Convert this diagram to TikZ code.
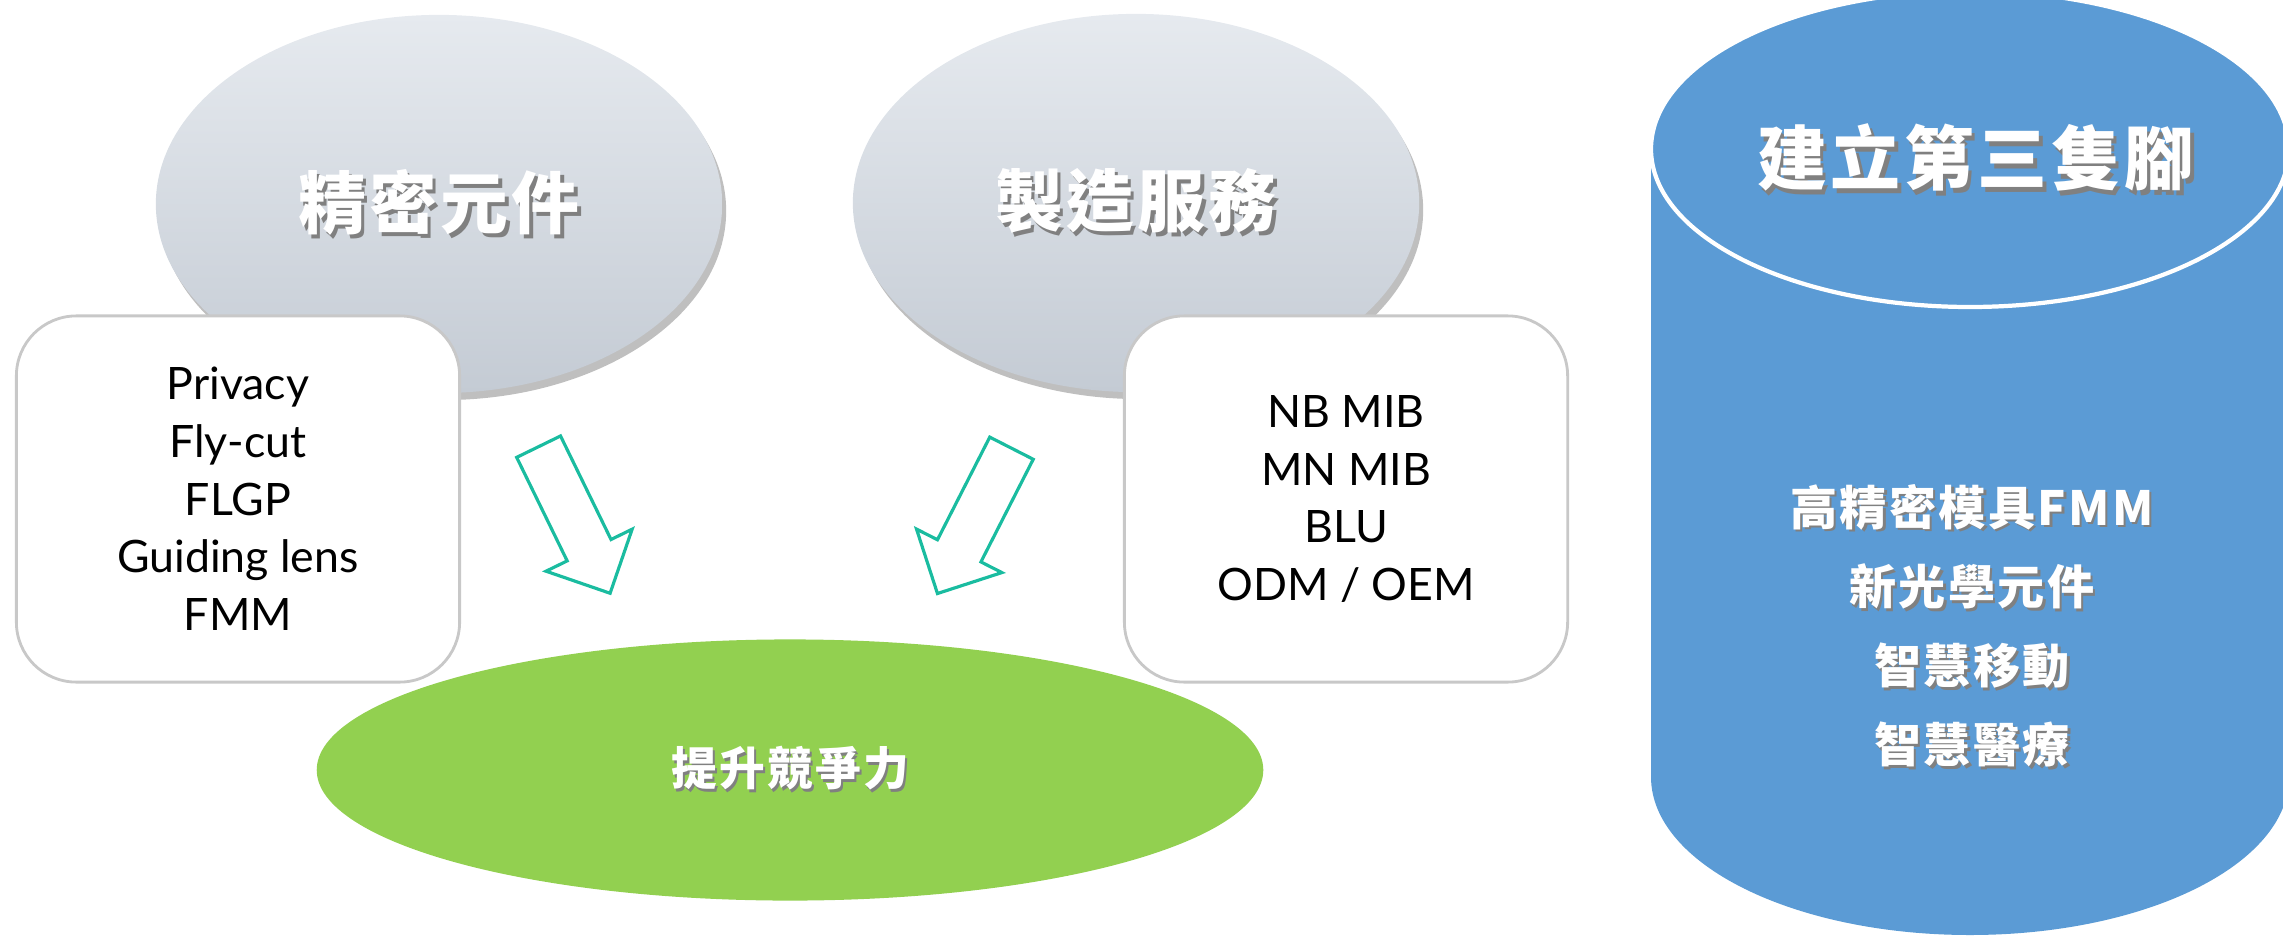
\documentclass[tikz,border=0pt]{standalone}
\usepackage{fontspec}
\setmainfont{Lato}
\newfontfamily\cjk[LetterSpace=5]{Noto Sans CJK TC}
\usetikzlibrary{shapes.geometric,shapes.arrows,shadows}
\definecolor{lidgray}{RGB}{230,234,239}
\definecolor{basegray}{RGB}{196,203,212}
\definecolor{goalgreen}{RGB}{146,208,80}
\definecolor{legblue}{RGB}{91,155,213}
\definecolor{arrowteal}{RGB}{26,188,160}
\definecolor{boxline}{RGB}{200,200,200}
\newcommand{\shtxt}[1]{\leavevmode\rlap{\kern0.05em\raisebox{-0.06em}{\textcolor{black!50}{#1}}}\textcolor{white}{#1}}

\begin{document}
\begin{tikzpicture}[x=0.01cm, y=-0.01cm,
  lid/.style={ellipse, top color=lidgray, bottom color=basegray, minimum width=5.66cm, minimum height=3.78cm,
    drop shadow={shadow xshift=0.04cm, shadow yshift=-0.07cm, opacity=0.5}, font=\cjk\bfseries\fontsize{19.3}{22}\selectfont},
  listbox/.style={draw=boxline, line width=0.8pt, fill=white, rounded corners=0.6cm, minimum width=4.43cm,
    minimum height=3.66cm, align=center, font=\fontsize{12.7}{16.4}\selectfont},
  downarrow/.style={single arrow, draw=arrowteal, line width=0.9pt, fill=white, minimum height=1.63cm,
    text height=0.456cm, text depth=0pt, inner sep=0pt, single arrow head extend=0.235cm}]
\useasboundingbox (0,0) rectangle (2283,937);

\node[lid] (parts) at (439,204) {\shtxt{精密元件}};
\node[lid] (service) at (1136,203) {\shtxt{製造服務}};

\node[ellipse, fill=goalgreen, minimum width=9.46cm, minimum height=2.61cm, font=\cjk\bfseries\fontsize{13}{15}\selectfont]
  (goal) at (790,770) {\shtxt{提升競爭力}};

\node[listbox] (partlist) at (238,499) {Privacy\\Fly-cut\\FLGP\\Guiding lens\\FMM};
\node[listbox] (servicelist) at (1346,499) {NB MIB\\MN MIB\\BLU\\ODM / OEM};

\node[downarrow, rotate=-64] (arrowL) at (569,509) {};
\node[downarrow, rotate=-117] (arrowR) at (980,510) {};

\fill[legblue] (1651,149) rectangle (2289,777);
\fill[legblue] (1970,777) ellipse [x radius=319, y radius=158];
\draw[white, line width=1.2pt, fill=legblue] (1970,149) ellipse [x radius=319, y radius=158];
\node[font=\cjk\bfseries\fontsize{19.9}{22}\selectfont] (legtitle) at (1976,160) {\shtxt{建立第三隻腳}};
\node[align=center, font=\cjk\bfseries\fontsize{13.4}{22.5}\selectfont] (leglist) at (1972,627)
  {\shtxt{高精密模具FMM}\\\shtxt{新光學元件}\\\shtxt{智慧移動}\\\shtxt{智慧醫療}};
\end{tikzpicture}
\end{document}
